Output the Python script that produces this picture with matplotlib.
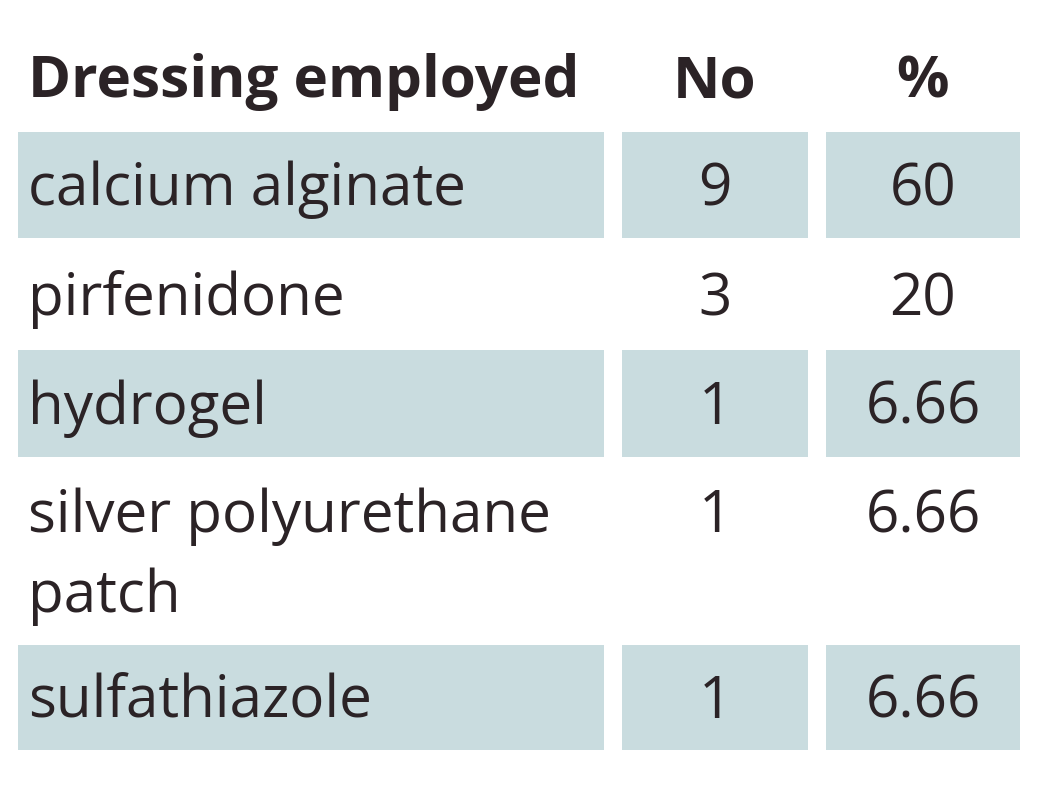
import matplotlib.pyplot as plt
from matplotlib.patches import Rectangle

headers = ["Dressing employed", "No", "%"]
dressings = ["calcium alginate", "pirfenidone", "hydrogel",
             "silver polyurethane\npatch", "sulfathiazole"]
counts = ["9", "3", "1", "1", "1"]
percents = ["60", "20", "6.66", "6.66", "6.66"]

shade = "#c9dcdf"
ink = "#2b2326"
font = "Open Sans"
fs = 42

# column extents (px) and row bands (top, bottom, shaded)
cols = [(18, 604), (622, 808), (826, 1020)]
rows = [(132, 238, True), (240, 350, False), (350, 457, True),
        (460, 640, False), (645, 750, True)]

fig = plt.figure(figsize=(10.49, 8.0), dpi=100)
ax = fig.add_axes([0, 0, 1, 1])
ax.set_xlim(0, 1049)
ax.set_ylim(800, 0)
ax.axis("off")

# header
ax.text(cols[0][0] + 10, 82, headers[0], fontsize=fs, fontweight="bold",
        family=font, color=ink, va="center", ha="left")
for (x0, x1), h in zip(cols[1:], headers[1:]):
    ax.text((x0 + x1) / 2, 82, h, fontsize=fs, fontweight="bold",
            family=font, color=ink, va="center", ha="center")

for (top, bot, shaded), name, n, p in zip(rows, dressings, counts, percents):
    if shaded:
        for x0, x1 in cols:
            ax.add_patch(Rectangle((x0, top), x1 - x0, bot - top,
                                   color=shade, lw=0))
    lines = name.split("\n")
    if len(lines) > 1:
        ty = top + 57
    else:
        ty = (top + bot) / 2 + 5
    for i, line in enumerate(lines):
        ax.text(cols[0][0] + 10, ty + i * 80, line, fontsize=fs,
                family=font, color=ink, va="center", ha="left")
    for (x0, x1), v in zip(cols[1:], [n, p]):
        ax.text((x0 + x1) / 2, ty, v, fontsize=fs, family=font,
                color=ink, va="center", ha="center")

fig.savefig("out.png", dpi=100, facecolor="white")
